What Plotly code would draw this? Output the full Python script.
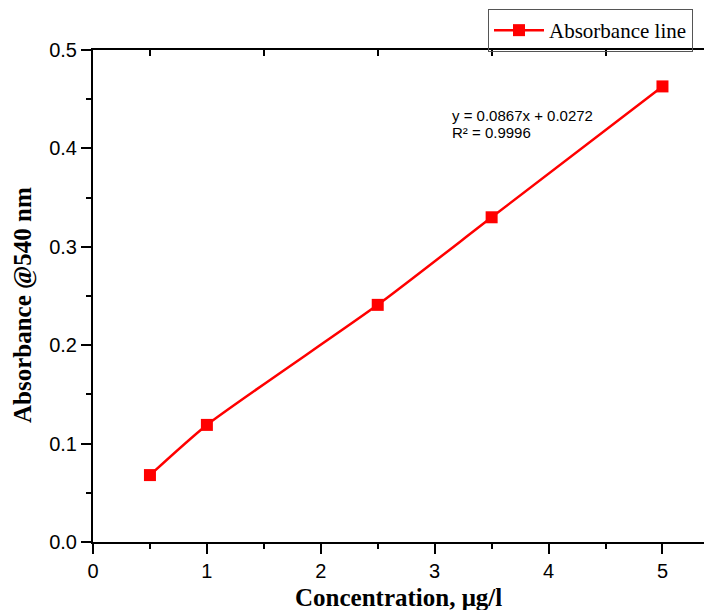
import plotly.graph_objects as go

# datos
concentracion = [0.5, 1.0, 2.5, 3.5, 5.0]
absorbancia = [0.068, 0.119, 0.241, 0.330, 0.463]
ecuacion = ["y = 0.0867x + 0.0272", "R² = 0.9996"]
ticks_espejo_x = [0.5, 1.5, 2.5, 3.5, 4.5]
ticks_espejo_y = [0.05, 0.15, 0.25, 0.35, 0.45]

ROJO = "#FF0000"
SERIF = "Liberation Serif, Times New Roman, serif"
SANS = "Liberation Sans, Arial, sans-serif"

# area del grafico en pixeles
IZQ, DER, ARR, ABA = 85, 708, 42, 534
W, H = 712, 610


def px_x(p):
    return (p - IZQ) / (DER - IZQ)


def px_y(p):
    return (ABA - p) / (ABA - ARR)


fig = go.Figure()
fig.add_trace(go.Scatter(
    x=concentracion, y=absorbancia,
    mode="lines+markers", name="Absorbance line",
    line=dict(color=ROJO, width=2.5, shape="spline", smoothing=0.6),
    marker=dict(symbol="square", size=12, color=ROJO)
))
# traza vacia para los ejes espejo
fig.add_trace(go.Scatter(x=[], y=[], xaxis="x2", yaxis="y2",
                         showlegend=False, hoverinfo="skip"))

eje = dict(
    showline=True, linecolor="black", linewidth=2,
    showgrid=False, zeroline=False, automargin=False,
    ticks="outside", ticklen=10, tickwidth=2, tickcolor="black",
    tickfont=dict(family=SANS, size=20, color="black"),
    mirror=True,
)
espejo = dict(
    showline=False, showgrid=False, zeroline=False, automargin=False,
    ticks="inside", ticklen=6, tickwidth=2, tickcolor="black",
    showticklabels=False,
)

fig.update_layout(
    width=W, height=H,
    margin=dict(l=IZQ, r=W - DER, t=ARR, b=H - ABA, autoexpand=False),
    plot_bgcolor="white", paper_bgcolor="white",
    showlegend=True,
    legend=dict(
        x=px_x(480), y=px_y(1), xanchor="left", yanchor="top",
        bgcolor="rgba(255,255,255,0)", bordercolor="#555555", borderwidth=1,
        font=dict(family=SERIF, size=21, color="black"),
        itemwidth=50,
    ),
    xaxis=dict(
        **eje, range=[0, 5.47], dtick=1, tick0=0,
        minor=dict(ticks="outside", ticklen=5, tickwidth=2, dtick=0.5, tickcolor="black"),
    ),
    yaxis=dict(
        **eje, range=[0, 0.5], dtick=0.1, tick0=0, tickformat=".1f",
        minor=dict(ticks="outside", ticklen=5, tickwidth=2, dtick=0.05, tickcolor="black"),
    ),
    xaxis2=dict(**espejo, overlaying="x", side="top", range=[0, 5.47],
                tickvals=ticks_espejo_x),
    yaxis2=dict(**espejo, overlaying="y", side="right", range=[0, 0.5],
                tickvals=ticks_espejo_y),
)

# titulos de los ejes
fig.add_annotation(
    x=px_x(390), y=px_y(589), xref="paper", yref="paper",
    text="<b>Concentration, μg/l</b>", showarrow=False,
    xanchor="center", yanchor="middle",
    font=dict(family=SERIF, size=25, color="black"),
)
fig.add_annotation(
    x=px_x(15), y=px_y(297), xref="paper", yref="paper",
    text="<b>Absorbance @540 nm</b>", showarrow=False, textangle=-90,
    xanchor="center", yanchor="middle",
    font=dict(family=SERIF, size=25, color="black"),
)

# ecuacion de la regresion
for i, linea in enumerate(ecuacion):
    fig.add_annotation(
        x=px_x(443), y=px_y(98 + 17 * i), xref="paper", yref="paper",
        text=linea, showarrow=False, align="left",
        xanchor="left", yanchor="top", borderpad=0,
        font=dict(family=SANS, size=15, color="black"),
    )

fig.write_html("out.html")
